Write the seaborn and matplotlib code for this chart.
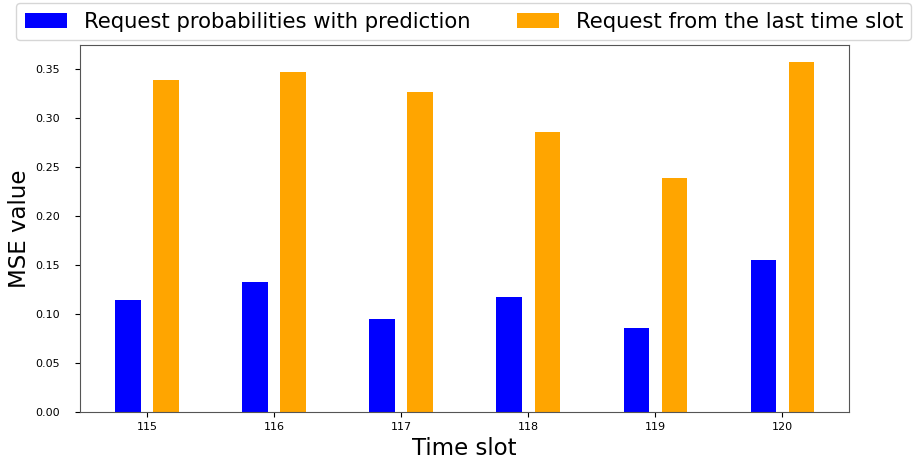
import matplotlib
matplotlib.use("Agg")
import matplotlib.pyplot as plt
import pandas as pd
import seaborn as sns

# Data
time_slots = [115, 116, 117, 118, 119, 120]
pred_mse = [0.114, 0.133, 0.095, 0.118, 0.086, 0.155]
last_mse = [0.339, 0.347, 0.327, 0.286, 0.239, 0.357]
labels = ["Request probabilities with prediction", "Request from the last time slot"]

df = pd.DataFrame({
    "slot": time_slots * 2,
    "mse": pred_mse + last_mse,
    "series": [labels[0]] * len(time_slots) + [labels[1]] * len(time_slots),
})

fig = plt.figure(figsize=(9.22, 4.62), dpi=100)
ax = fig.add_axes([0.087, 0.108, 0.834, 0.795])

sns.barplot(data=df, x="slot", y="mse", hue="series", hue_order=labels,
            palette={labels[0]: "blue", labels[1]: "orange"},
            native_scale=True, width=0.6, gap=1/3, saturation=1,
            errorbar=None, linewidth=0, ax=ax)

ax.set_xticks(time_slots)
ax.set_xticklabels([str(t) for t in time_slots])
ax.set_xlim(114.475, 120.525)
ax.set_ylim(0, 0.375)
ax.set_yticks([0.0, 0.05, 0.10, 0.15, 0.20, 0.25, 0.30, 0.35])
ax.tick_params(labelsize=8)
ax.tick_params(axis="y", pad=11)
for s in ax.spines.values():
    s.set_color("#555555")
ax.set_xlabel("Time slot", fontsize=16.5)
ax.set_ylabel("MSE value", fontsize=16.5, labelpad=3)

handles, lbls = ax.get_legend_handles_labels()
ax.get_legend().remove()
fig.legend(handles, lbls, loc="upper center", bbox_to_anchor=(0.503, 1.0),
           ncol=2, fontsize=15.2, frameon=True, columnspacing=2.2,
           borderaxespad=0.15)

fig.savefig("out.png", dpi=100)
